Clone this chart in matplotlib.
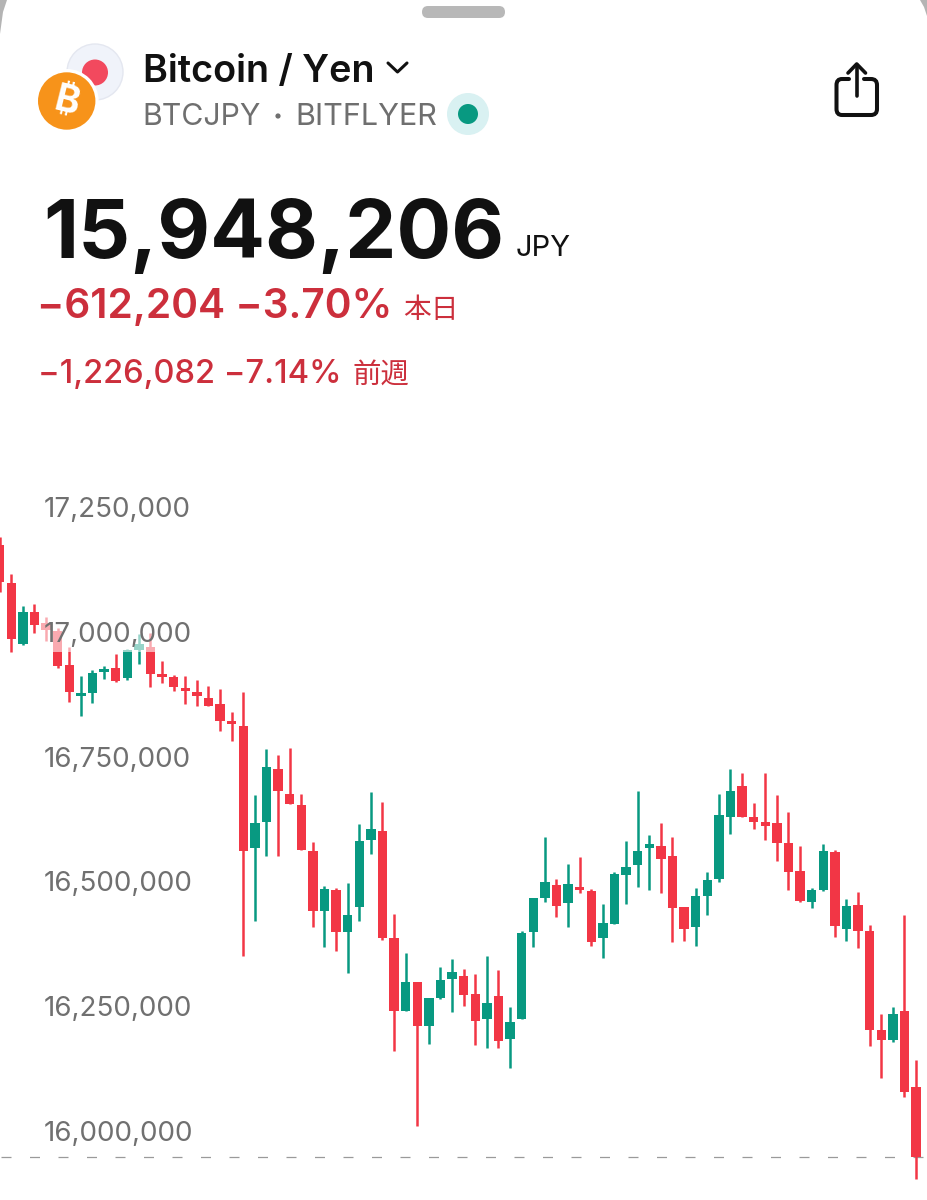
import matplotlib
matplotlib.use("Agg")
import matplotlib.pyplot as plt
from matplotlib.patches import Circle, FancyBboxPatch, Polygon, Rectangle, PathPatch
from matplotlib.path import Path

plt.rcParams['font.family'] = ['Inter', 'Noto Sans CJK JP', 'DejaVu Sans']

# prices in thousand yen
opens = [17174, 17098, 16975, 17040, 17018, 17002, 16933, 16871, 16877, 16919,
         16927, 16907, 16963, 16969, 16915, 16909, 16887, 16879, 16867, 16855,
         16821, 16811, 16567, 16619, 16725, 16675, 16654, 16561, 16441, 16483,
         16399, 16449, 16583, 16601, 16387, 16240, 16298, 16210, 16266, 16304,
         16310, 16274, 16224, 16270, 16184, 16224, 16399, 16467, 16493, 16457,
         16489, 16481, 16387, 16415, 16513, 16533, 16567, 16571, 16551, 16449,
         16409, 16471, 16505, 16629, 16691, 16629, 16619, 16617, 16577, 16521,
         16459, 16483, 16559, 16405, 16453, 16401, 16202, 16182, 16240, 16088]
highs = [17190, 17116, 17052, 17056, 17030, 17008, 16969, 16911, 16923, 16931,
         16955, 16965, 16995, 16998, 16941, 16913, 16911, 16903, 16891, 16885,
         16839, 16879, 16673, 16765, 16753, 16767, 16675, 16579, 16491, 16487,
         16497, 16615, 16679, 16659, 16435, 16357, 16298, 16266, 16329, 16345,
         16324, 16314, 16351, 16322, 16248, 16401, 16467, 16589, 16505, 16535,
         16549, 16485, 16455, 16519, 16581, 16681, 16593, 16617, 16589, 16449,
         16487, 16519, 16675, 16725, 16717, 16657, 16717, 16673, 16639, 16571,
         16487, 16575, 16563, 16465, 16479, 16413, 16234, 16248, 16433, 16142]
lows = [17080, 16959, 16974, 16998, 16981, 16927, 16859, 16831, 16857, 16905,
        16899, 16903, 16935, 16889, 16897, 16881, 16855, 16851, 16851, 16801,
        16781, 16351, 16421, 16551, 16551, 16655, 16563, 16409, 16369, 16361,
        16316, 16421, 16555, 16383, 16160, 16240, 16010, 16174, 16264, 16238,
        16250, 16172, 16166, 16166, 16126, 16224, 16369, 16459, 16429, 16409,
        16477, 16371, 16347, 16415, 16455, 16489, 16483, 16477, 16379, 16381,
        16371, 16433, 16499, 16595, 16629, 16605, 16583, 16541, 16483, 16459,
        16447, 16481, 16389, 16381, 16367, 16170, 16106, 16178, 16068, 15904]
closes = [17100, 16985, 17040, 17014, 17004, 16931, 16879, 16877, 16917, 16925,
          16901, 16963, 16975, 16915, 16909, 16889, 16881, 16871, 16851, 16821,
          16815, 16561, 16617, 16729, 16681, 16655, 16563, 16441, 16485, 16399,
          16433, 16581, 16605, 16387, 16240, 16298, 16210, 16266, 16302, 16318,
          16272, 16220, 16256, 16180, 16218, 16397, 16467, 16499, 16451, 16495,
          16483, 16379, 16417, 16515, 16529, 16561, 16575, 16545, 16447, 16405,
          16471, 16503, 16633, 16681, 16629, 16619, 16611, 16577, 16519, 16461,
          16483, 16561, 16411, 16451, 16401, 16202, 16182, 16234, 16078, 15948]
price_ticks = [16000, 16250, 16500, 16750, 17000, 17250]
last_price = 15948.206

RED = '#F23645'
GREEN = '#089981'
GRAY = '#6F6F6F'
TEXT_RED = '#CC2F3C'

fig = plt.figure(figsize=(9.27, 12), dpi=100, facecolor='white')

# screen furniture is drawn in pixel coordinates
ui = fig.add_axes([0, 0, 1, 1], zorder=0)
ui.set_xlim(0, 927)
ui.set_ylim(1200, 0)
ui.axis('off')

# sheet corners
ui.add_patch(Polygon([(0, 0), (7, 0), (3, 12), (0, 34)], fc='#B4B4B4', ec='none'))
ui.add_patch(Polygon([(920, 0), (927, 0), (927, 16), (924, 7)], fc='#B4B4B4', ec='none'))
ui.add_patch(FancyBboxPatch((422, 6), 83, 12, boxstyle='round,pad=0,rounding_size=6',
                            fc='#B8B8B8', ec='none'))

# flag and coin icons
ui.add_patch(Circle((95, 72), 28, fc='#F0F3FA', ec='#E4E7F0', lw=1))
ui.add_patch(Circle((95, 72.5), 13, fc='#F2495E', ec='none'))
ui.add_patch(Circle((66.7, 101), 32, fc='white', ec='none'))
ui.add_patch(Circle((66.7, 101), 28.7, fc='#F7931A', ec='none'))
ui.text(66.7, 102, '\u20bf', color='white', fontsize=27, fontweight='bold', rotation=-14,
        ha='center', va='center', family=['Inter', 'Noto Sans', 'Roboto', 'Open Sans', 'Lato', 'DejaVu Sans'])

ui.text(143.5, 81.5, 'Bitcoin / Yen', color='#111111', fontsize=27.2, fontweight='semibold')
ui.plot([388, 397.5, 407], [63, 72, 63], color='#111111', lw=2.2, solid_capstyle='round',
        solid_joinstyle='round')
ui.text(142.5, 125, 'BTCJPY', color=GRAY, fontsize=21.8)
ui.add_patch(Circle((278, 116), 2.6, fc=GRAY, ec='none'))
ui.text(295, 125, 'BITFLYER', color=GRAY, fontsize=22)
ui.add_patch(Circle((468, 114), 21, fc='#D9F1F2', ec='none'))
ui.add_patch(Circle((468, 114), 10, fc=GREEN, ec='none'))

# share icon
box = Path([(849, 79), (842, 79), (836.5, 79), (836.5, 85), (836.5, 109), (836.5, 115),
            (842, 115), (871, 115), (877, 115), (877, 109), (877, 85), (877, 79),
            (871, 79), (864, 79)],
           [Path.MOVETO, Path.LINETO, Path.CURVE3, Path.CURVE3, Path.LINETO, Path.CURVE3,
            Path.CURVE3, Path.LINETO, Path.CURVE3, Path.CURVE3, Path.LINETO, Path.CURVE3,
            Path.CURVE3, Path.LINETO])
ui.add_patch(PathPatch(box, fc='none', ec='#111111', lw=2.9, capstyle='round'))
ui.plot([856.7, 856.7], [65, 96], color='#111111', lw=2.6, solid_capstyle='round')
ui.plot([848, 856.7, 865.5], [73, 64, 73], color='#111111', lw=2.6, solid_capstyle='round')

# price block
ui.text(43, 258, '15,948,206', color='#111111', fontsize=58.5, fontweight='bold')
ui.text(516, 256, 'JPY', color='#111111', fontsize=21)
ui.text(37, 318, '\u2212612,204 \u22123.70%', color=TEXT_RED, fontsize=29.3, fontweight='semibold')
ui.text(403.5, 318, '本日', color=TEXT_RED, fontsize=20)
ui.text(38, 383, '\u22121,226,082 \u22127.14%', color=TEXT_RED, fontsize=23.5, fontweight='medium')
ui.text(353, 383, '前週', color=TEXT_RED, fontsize=20.5)

# candles
ax = fig.add_axes([0, 0, 1, 710 / 1200], zorder=1)
ax.patch.set_alpha(0)
ax.set_xlim(0.026, 79.94)
ax.set_ylim(15861.8, 17284)
for side in ax.spines.values():
    side.set_visible(False)
ax.set_xticks([])

idx = list(range(len(opens)))
colors = [GREEN if c >= o else RED for o, c in zip(opens, closes)]
bottoms = [min(o, c) for o, c in zip(opens, closes)]
heights = [abs(c - o) for o, c in zip(opens, closes)]
ax.axhline(last_price, color='#9A9A9A', lw=0.9, linestyle=(22, (8, 14.8)), zorder=0.5)
ax.vlines(idx, lows, highs, colors=colors, lw=1.8, zorder=1)
ax.bar(idx, heights, bottom=bottoms, width=0.82, color=colors, linewidth=0, zorder=1.1)

# the axis labels sit on top of the candles with a see-through white backing
ax.add_patch(Rectangle((41, 612), 150, 40, transform=ui.transData, fc='white', alpha=0.58,
                       ec='none', zorder=2))
ax.set_axisbelow(False)
ax.set_yticks(price_ticks)
ax.set_yticklabels([f'{p * 1000:,}' for p in price_ticks])
ax.tick_params(axis='y', length=0, pad=-31.7, labelsize=20, labelcolor='#707070')
for lab in ax.get_yticklabels():
    lab.set_horizontalalignment('left')

fig.savefig('out.png', dpi=100, facecolor='white')
